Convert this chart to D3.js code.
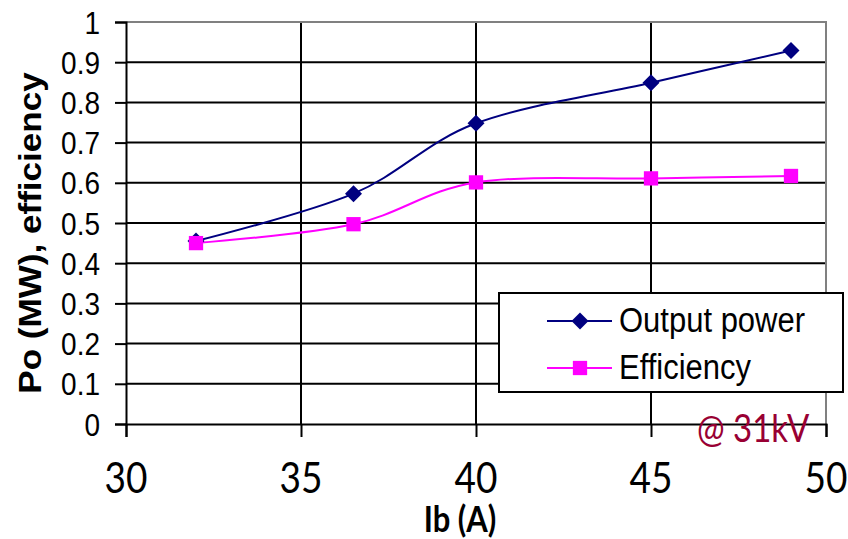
<!DOCTYPE html>
<html>
<head>
<meta charset="utf-8">
<script src="https://cdn.jsdelivr.net/npm/d3@7"></script>
<style>
  body { margin: 0; background: #fff; }
  svg { display: block; }
</style>
</head>
<body>
<div id="chart"></div>
<script>
'use strict';

// data
var ib = [32, 36.5, 40, 45, 49];
var outputPower = [0.455, 0.573, 0.748, 0.849, 0.929];
var efficiency = [0.450, 0.497, 0.601, 0.611, 0.617];
var xTicks = [30, 35, 40, 45, 50];
var yTicks = [0, 0.1, 0.2, 0.3, 0.4, 0.5, 0.6, 0.7, 0.8, 0.9, 1];
var seriesNames = ['Output power', 'Efficiency'];

var width = 848,
    height = 539;

var plotLeft = 126, plotRight = 826, plotTop = 22, plotBottom = 424;
var stretch = 1.15; // text in the original is a bit taller than wide

var svg = d3.select('#chart').append('svg')
    .attr('width', width)
    .attr('height', height);

var x = d3.scaleLinear().domain([30, 50]).range([plotLeft, plotRight]);
var y = d3.scaleLinear().domain([0, 1]).range([plotBottom, plotTop]);

function stretchedText(g, px, py, txt) {
    return g.append('text')
        .attr('transform', 'translate(' + px + ',' + py + ') scale(1,' + stretch + ')')
        .text(txt);
}

// grid
svg.append('g').selectAll('line')
    .data(yTicks.filter(function(d) { return d > 0 && d < 1; }))
    .enter().append('line')
    .attr('x1', plotLeft).attr('x2', plotRight)
    .attr('y1', function(d) { return y(d); })
    .attr('y2', function(d) { return y(d); })
    .attr('stroke', '#000').attr('stroke-width', 2);

svg.append('g').selectAll('line')
    .data(xTicks.filter(function(d) { return d > 30 && d < 50; }))
    .enter().append('line')
    .attr('x1', function(d) { return x(d); })
    .attr('x2', function(d) { return x(d); })
    .attr('y1', plotTop).attr('y2', plotBottom)
    .attr('stroke', '#000').attr('stroke-width', 2);

// plot border: top and right grey
svg.append('path')
    .attr('d', 'M' + plotLeft + ',' + plotTop + 'H' + plotRight + 'V' + plotBottom)
    .attr('fill', 'none').attr('stroke', '#808080').attr('stroke-width', 2);

// axes
var yAxis = d3.axisLeft(y).tickValues(yTicks).tickSize(11).tickFormat('');
svg.append('g')
    .attr('transform', 'translate(' + plotLeft + ',0)')
    .call(yAxis)
    .call(function(g) {
        g.select('.domain').attr('stroke', '#000').attr('stroke-width', 2);
        g.selectAll('.tick line').attr('stroke', '#000').attr('stroke-width', 2);
    });

var xAxis = d3.axisBottom(x).tickValues(xTicks).tickSize(13).tickFormat('');
svg.append('g')
    .attr('transform', 'translate(0,' + plotBottom + ')')
    .call(xAxis)
    .call(function(g) {
        g.select('.domain').attr('stroke', '#000').attr('stroke-width', 2);
        g.selectAll('.tick line').attr('stroke', '#000').attr('stroke-width', 2);
    });

// tick labels
var yLab = svg.append('g')
    .attr('font-family', 'Liberation Sans, Arial, sans-serif')
    .attr('font-size', 28)
    .attr('text-anchor', 'end')
    .attr('fill', '#000');
yTicks.forEach(function(d) {
    stretchedText(yLab, 100, y(d) + 11.5, d3.format('~g')(d));
});

var xLab = svg.append('g')
    .attr('font-family', 'Lato, Open Sans, sans-serif')
    .attr('font-size', 37)
    .attr('text-anchor', 'middle')
    .attr('fill', '#000');
xTicks.forEach(function(d) {
    stretchedText(xLab, x(d), 493, d);
});

// axis titles
svg.append('text')
    .attr('transform', 'translate(460,532) scale(1,' + stretch + ')')
    .attr('font-family', 'Lato, Open Sans, sans-serif')
    .attr('font-weight', 'bold')
    .attr('font-size', 31)
    .attr('text-anchor', 'middle')
    .text('Ib (A)');

svg.append('text')
    .attr('transform', 'translate(41,233) rotate(-90) scale(' + stretch + ',1)')
    .attr('font-family', 'Liberation Sans, Arial, sans-serif')
    .attr('font-weight', 'bold')
    .attr('font-size', 30.5)
    .attr('text-anchor', 'middle')
    .text('Po (MW), efficiency');

// lines
var pts0 = ib.map(function(d, i) { return [d, outputPower[i]]; });
var pts1 = ib.map(function(d, i) { return [d, efficiency[i]]; });

var line = d3.line()
    .x(function(d) { return x(d[0]); })
    .y(function(d) { return y(d[1]); })
    .curve(d3.curveCardinal.tension(0));

svg.append('path').datum(pts1)
    .attr('d', line).attr('fill', 'none')
    .attr('stroke', '#ff00ff').attr('stroke-width', 2);

svg.append('path').datum(pts0)
    .attr('d', line).attr('fill', 'none')
    .attr('stroke', '#000080').attr('stroke-width', 2);

var diamond = d3.symbol().type(d3.symbolDiamond2).size(185);
var square = d3.symbol().type(d3.symbolSquare2).size(260);

svg.append('g').selectAll('path')
    .data(pts0).enter().append('path')
    .attr('transform', function(d) { return 'translate(' + x(d[0]) + ',' + y(d[1]) + ')'; })
    .attr('d', diamond)
    .attr('fill', '#000080');

svg.append('g').selectAll('path')
    .data(pts1).enter().append('path')
    .attr('transform', function(d) { return 'translate(' + x(d[0]) + ',' + y(d[1]) + ')'; })
    .attr('d', square)
    .attr('fill', '#ff00ff');

// legend
var leg = svg.append('g');
leg.append('rect')
    .attr('x', 499).attr('y', 293)
    .attr('width', 344).attr('height', 99)
    .attr('fill', '#fff').attr('stroke', '#000').attr('stroke-width', 2);

var legColors = ['#000080', '#ff00ff'];
var legSymbols = [diamond, square];
var legY = [321, 368];

seriesNames.forEach(function(name, i) {
    leg.append('line')
        .attr('x1', 547).attr('x2', 612)
        .attr('y1', legY[i]).attr('y2', legY[i])
        .attr('stroke', legColors[i]).attr('stroke-width', 2);
    leg.append('path')
        .attr('transform', 'translate(580,' + legY[i] + ')')
        .attr('d', legSymbols[i])
        .attr('fill', legColors[i]);
    var t = stretchedText(leg, 619, legY[i] + 11, name);
    t.attr('font-family', 'Liberation Sans, Arial, sans-serif')
        .attr('font-size', 31)
        .attr('fill', '#000');
});

// annotation
svg.append('text')
    .attr('transform', 'translate(697,442) scale(1,' + stretch + ')')
    .attr('font-family', 'Lato, Open Sans, sans-serif')
    .attr('font-size', 33)
    .attr('fill', '#990033')
    .text('@ 31kV');
</script>
</body>
</html>
